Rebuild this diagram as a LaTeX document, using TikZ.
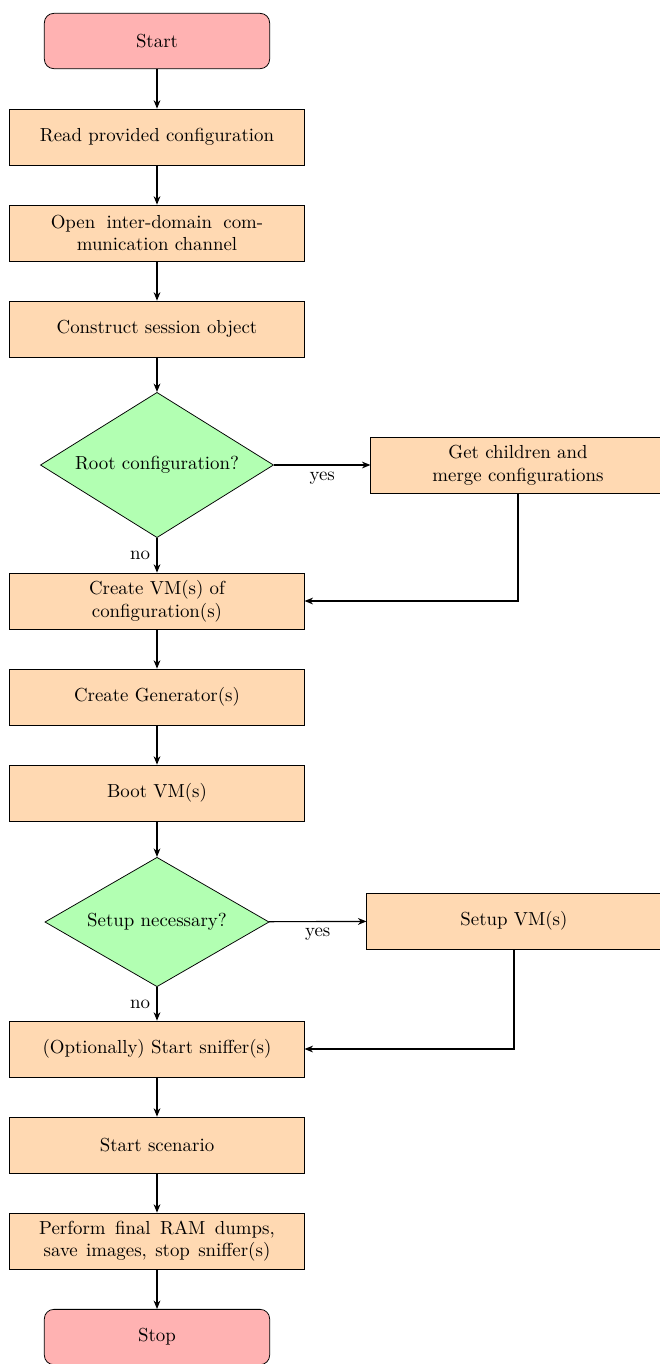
\documentclass[tikz,border=0pt]{standalone}
\usetikzlibrary{shapes.geometric,arrows.meta}
\begin{document}
\begin{tikzpicture}[x=0.53pt,y=-0.53pt,
    terminal/.style={rectangle, rounded corners=5pt, draw, fill=red!30,
      minimum width=119.4pt, minimum height=29.3pt},
    process/.style={rectangle, draw, fill=orange!30, align=center,
      minimum width=156pt, minimum height=29.6pt},
    decision/.style={diamond, draw, fill=green!30, inner sep=0pt, aspect=1.6},
    flow/.style={-{Stealth[length=4.5pt,width=3.6pt]}, semithick}]
  \useasboundingbox (0,0) rectangle (660,1364);
  \draw
    (157,41) node[terminal] (start){Start}
    (157,137) node[process] (read){Read provided configuration}
    (157,233) node[process] (channel){Open\hspace{6pt}inter-domain\hspace{6pt}com-\\munication channel}
    (157,329) node[process] (session){Construct session object}
    (157,465) node[decision, minimum width=123.6pt, minimum height=77pt] (root){Root configuration?}
    (518,465) node[process] (merge){Get children and\\merge configurations}
    (157,601) node[process] (createvm){Create VM(s) of\\configuration(s)}
    (157,697) node[process] (generator){Create Generator(s)}
    (157,793) node[process] (boot){Boot VM(s)}
    (157,922) node[decision, minimum width=118.8pt, minimum height=68.6pt] (setup){Setup necessary?}
    (514,921) node[process] (setupvm){Setup VM(s)}
    (157,1049) node[process] (sniffer){(Optionally) Start sniffer(s)}
    (157,1145) node[process] (scenario){Start scenario}
    (157,1241) node[process] (final){Perform\hspace{5pt}final\hspace{5pt}RAM\hspace{5pt}dumps,\\save\hspace{4.4pt}images,\hspace{4.4pt}stop\hspace{4.4pt}sniffer(s)}
    (157,1337) node[terminal] (stop){Stop};
  \begin{scope}[flow]
    \draw (start) to (read);
    \draw (read) to (channel);
    \draw (channel) to (session);
    \draw (session) to (root);
    \draw (root) to node[below] (yesroot){yes} (merge);
    \draw (root) to node[left] (noroot){no} (createvm);
    \draw (merge) |- (createvm);
    \draw (createvm) to (generator);
    \draw (generator) to (boot);
    \draw (boot) to (setup);
    \draw (setup) to node[below] (yessetup){yes} (setupvm);
    \draw (setup) to node[left] (nosetup){no} (sniffer);
    \draw (setupvm) |- (sniffer);
    \draw (sniffer) to (scenario);
    \draw (scenario) to (final);
    \draw (final) to (stop);
  \end{scope}
\end{tikzpicture}
\end{document}
